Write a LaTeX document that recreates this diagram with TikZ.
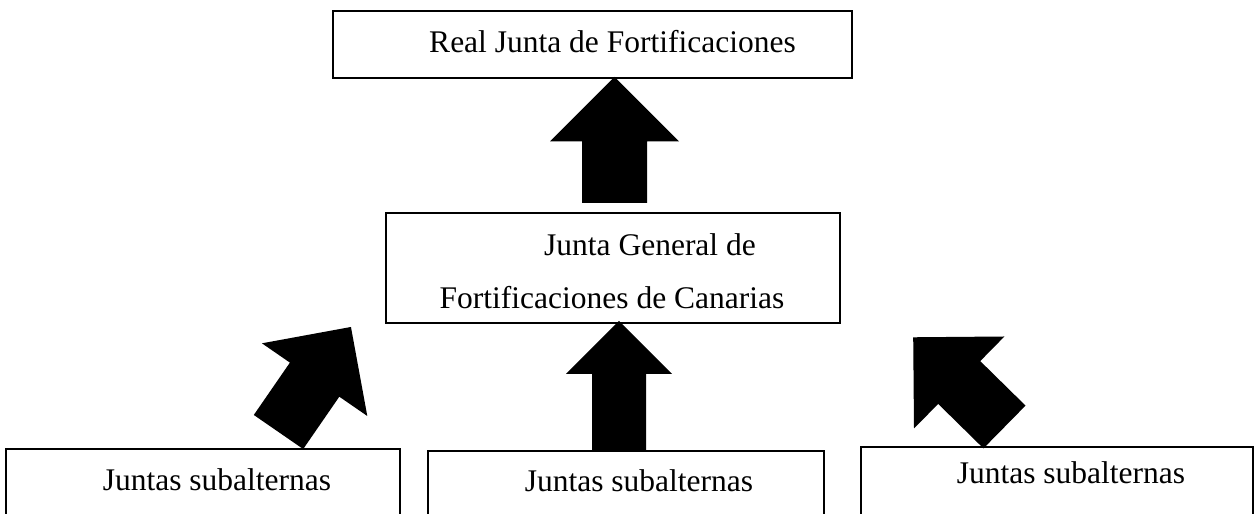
\documentclass[tikz,border=0pt]{standalone}
\usepackage{fontspec}
\setmainfont{Liberation Serif}

\begin{document}
\begin{tikzpicture}[x=0.4pt,y=0.4pt,
    caja/.style={draw, line width=0.8pt, rectangle, inner sep=0pt, anchor=center},
    texto/.style={anchor=base, inner sep=0pt, font=\fontsize{12.6}{15}\selectfont},
    pics/flecha/.style n args={3}{code={
        \fill ({0},{-#2/2}) -- ({#1-#3/2},{-#2/2}) -- ({#1-#3/2},{-#3/2}) -- ({#1},0)
           -- ({#1-#3/2},{#3/2}) -- ({#1-#3/2},{#2/2}) -- ({0},{#2/2}) -- cycle;}},
    ]
\clip (0,0) rectangle (1256,514);

% cajas
\node[caja, minimum width=207.6pt, minimum height=26.8pt] (real) at (592.5,469.5) {};
\node[caja, minimum width=181.6pt, minimum height=44pt] (general) at (613,246) {};
\node[caja, minimum width=157.6pt, minimum height=32.4pt] (subizq) at (203,24.5) {};
\node[caja, minimum width=158.4pt, minimum height=31.6pt] (subcen) at (626,23.5) {};
\node[caja, minimum width=156.8pt, minimum height=33.2pt] (subder) at (1057,25.5) {};

% textos
\node[texto] (realtxt) at (612.5,461) {Real Junta de Fortificaciones};
\node[texto] (generaluno) at (650,258) {Junta General de};
\node[texto] (generaldos) at (612,205) {Fortificaciones de Canarias};
\node[texto] (subizqtxt) at (217,23) {Juntas subalternas};
\node[texto] (subcentxt) at (639,22) {Juntas subalternas};
\node[texto] (subdertxt) at (1071,30) {Juntas subalternas};

% flechas
\pic[rotate=90] at (614.5,311) {flecha={126}{65}{129}};
\pic[rotate=90] at (619,63) {flecha={130}{54}{106}};
\pic[rotate=55.4] at (278.5,82) {flecha={127.6}{60}{128}};
\pic[rotate=135.5] at (1004.5,87) {flecha={128}{60}{129}};
\end{tikzpicture}
\end{document}
